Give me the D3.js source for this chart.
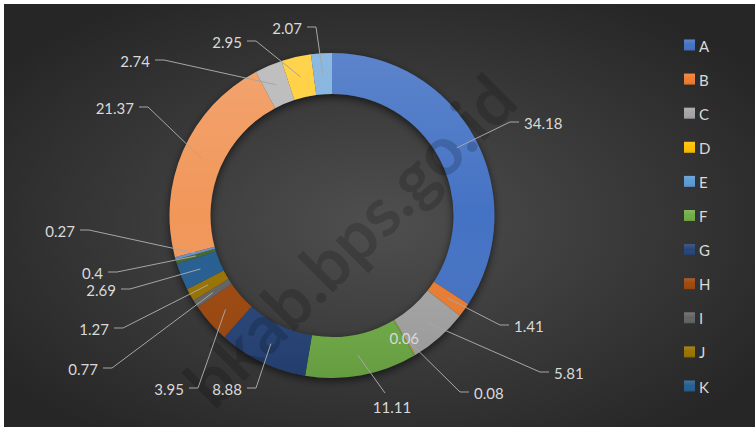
<!DOCTYPE html>
<html><head><meta charset="utf-8">
<script src="https://cdn.jsdelivr.net/npm/d3@7"></script>
<style>html,body{margin:0;padding:0;background:#fff;}svg{display:block;}</style>
</head><body>
<script>
const categories = ['A','B','C','D','E','F','G','H','I','J','K','L','M','N','O','P','Q'];
const values = [34.18,1.41,5.81,0.08,0.06,11.11,8.88,3.95,0.77,1.27,2.69,0.4,0.27,21.37,2.74,2.95,2.07];
const valueLabels = ['34.18','1.41','5.81','0.08','0.06','11.11','8.88','3.95','0.77','1.27','2.69','0.4','0.27','21.37','2.74','2.95','2.07'];
const legendCategories = ['A','B','C','D','E','F','G','H','I','J','K'];
const colors = ['#4472C4','#ED7D31','#A5A5A5','#FFC000','#5B9BD5','#70AD47','#264478','#9E480E','#636363','#997300','#255E91','#43682B','#698ED0','#F1975A','#B7B7B7','#FFCD33','#7CAFDD'];
// label layout (elbow point of leader + side)
const labelLayout = [
  [510,122,'r'],[500,325,'r'],[540,372,'r'],[460,392,'r'],[0,0,'in'],[385,393,'b'],
  [256,388,'l'],[198,388,'l'],[112,368,'l'],[123,328,'l'],[130,289,'l'],[117,272,'l'],
  [89,230,'l'],[148,107,'l'],[164,60,'l'],[256,41,'l'],[316,27,'l']
];
const W = 755, H = 427;
const cx = 332, cy = 215.5, rOut = 162.5, rIn = 121.5;

const svg = d3.select('body').append('svg').attr('width', W).attr('height', H);
const defs = svg.append('defs');
const bg = defs.append('radialGradient').attr('id','bg').attr('cx','50%').attr('cy','52%').attr('r','62%');
bg.append('stop').attr('offset','0%').attr('stop-color','#4f4f4f');
bg.append('stop').attr('offset','100%').attr('stop-color','#262626');
const sh = defs.append('linearGradient').attr('id','shade').attr('x1',0).attr('y1',0).attr('x2',0).attr('y2',1);
sh.append('stop').attr('offset','0%').attr('stop-color','#fff').attr('stop-opacity',0.13);
sh.append('stop').attr('offset','50%').attr('stop-color','#fff').attr('stop-opacity',0);
sh.append('stop').attr('offset','100%').attr('stop-color','#000').attr('stop-opacity',0.1);
const f = defs.append('filter').attr('id','ds').attr('x','-20%').attr('y','-20%').attr('width','140%').attr('height','140%');
f.append('feDropShadow').attr('dx',0).attr('dy',3).attr('stdDeviation',4).attr('flood-color','#000').attr('flood-opacity',0.6);

svg.append('rect').attr('x',4).attr('y',4).attr('width',W-4).attr('height',H-4).attr('fill','url(#bg)');

const pie = d3.pie().sort(null).value(d => d).startAngle(0).endAngle(2*Math.PI);
const arcs = pie(values);
const arc = d3.arc().innerRadius(rIn).outerRadius(rOut);
const ring = d3.arc().innerRadius(rIn).outerRadius(rOut).startAngle(0).endAngle(2*Math.PI);

const g = svg.append('g').attr('transform', `translate(${cx},${cy})`);
g.append('path').attr('d', ring()).attr('fill','#333').attr('filter','url(#ds)');
g.selectAll('path.slice').data(arcs).join('path').attr('class','slice')
  .attr('d', arc).attr('fill', (d,i) => colors[i]);
g.append('path').attr('d', ring()).attr('fill','url(#shade)');

// watermark
svg.append('text').text('bkab.bps.go.id')
  .attr('transform','translate(502,86) rotate(-45)')
  .attr('text-anchor','end').attr('dominant-baseline','central')
  .attr('font-family','Lato, sans-serif').attr('font-weight','bold').attr('font-size',68)
  .attr('fill','#000').attr('fill-opacity',0.17);

// leader lines & labels
const lab = svg.append('g').attr('font-family','Lato, sans-serif').attr('font-size',15).attr('fill','#d9d9d9');
arcs.forEach((d,i) => {
  const [ex, ey, side] = labelLayout[i];
  const c = arc.centroid(d);
  const px = cx + c[0], py = cy + c[1];
  if (side === 'in') {
    lab.append('text').attr('x',px).attr('y',py).attr('text-anchor','middle').attr('dominant-baseline','central').text(valueLabels[i]);
    return;
  }
  let pts, tx, ty, anchor;
  if (side === 'b') {
    pts = [[px,py],[ex,ey]];
    tx = ex + 7; ty = ey + 14; anchor = 'middle';
  } else {
    const hx = side === 'r' ? ex + 9 : ex - 9;
    pts = [[px,py],[ex,ey],[hx,ey]];
    tx = side === 'r' ? hx + 5 : hx - 5; ty = ey + 1; anchor = side === 'r' ? 'start' : 'end';
  }
  lab.append('path').attr('d', d3.line()(pts)).attr('fill','none').attr('stroke','#a6a6a6').attr('stroke-width',1);
  lab.append('text').attr('x',tx).attr('y',ty).attr('text-anchor',anchor).attr('dominant-baseline','central').text(valueLabels[i]);
});

// legend
const ly = d3.scalePoint().domain(legendCategories).range([45,386]);
const leg = svg.append('g');
legendCategories.forEach((c,i) => {
  const y = ly(c);
  leg.append('rect').attr('x',684).attr('y',y-5.5).attr('width',11).attr('height',11).attr('fill',colors[i]);
  leg.append('rect').attr('x',684).attr('y',y-5.5).attr('width',11).attr('height',11).attr('fill','url(#shade)');
  leg.append('text').attr('x',699).attr('y',y+0.5).attr('dominant-baseline','central')
    .attr('font-family','Lato, sans-serif').attr('font-size',15).attr('fill','#d9d9d9').text(c);
});
</script>
</body></html>
